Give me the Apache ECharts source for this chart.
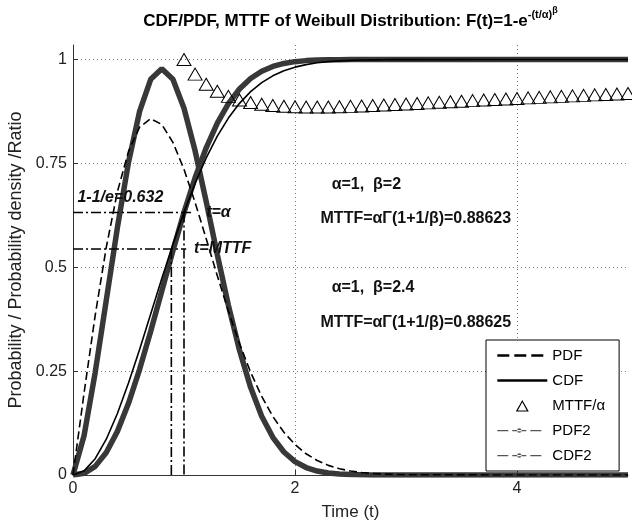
<!DOCTYPE html>
<html>
<head>
<meta charset="utf-8">
<script src="https://cdn.jsdelivr.net/npm/echarts@6/dist/echarts.min.js"></script>
<style>
  html, body { margin: 0; padding: 0; background: #fff; }
  #chart { width: 632px; height: 529px; }
</style>
</head>
<body>
<div id="chart"></div>
<script>
// time axis samples
const tVals = [0, 0.1, 0.2, 0.3, 0.4, 0.5, 0.6, 0.7, 0.8, 0.9, 1.0, 1.1, 1.2, 1.3, 1.4, 1.5,
  1.6, 1.7, 1.8, 1.9, 2.0, 2.1, 2.2, 2.3, 2.4, 2.5, 2.6, 2.7, 2.8, 2.9, 3.0, 4.0, 5.0]
// alpha=1, beta=2
const pdfVals = [0, 0.1980, 0.3843, 0.5484, 0.6817, 0.7788, 0.8372, 0.8577, 0.8437, 0.8007, 0.7358,
  0.6560, 0.5686, 0.4797, 0.3944, 0.3162, 0.2474, 0.1890, 0.1410, 0.1028, 0.0733, 0.0511, 0.0348,
  0.0232, 0.0151, 0.0097, 0.0060, 0.0037, 0.0022, 0.0013, 0.0007, 0, 0]
const cdfVals = [0, 0.0100, 0.0392, 0.0861, 0.1479, 0.2212, 0.3023, 0.3874, 0.4727, 0.5551, 0.6321,
  0.7018, 0.7631, 0.8155, 0.8591, 0.8946, 0.9227, 0.9444, 0.9608, 0.9730, 0.9817, 0.9878, 0.9921,
  0.9950, 0.9968, 0.9981, 0.9988, 0.9993, 0.9996, 0.9998, 0.9999, 1, 1]
// alpha=1, beta=2.4
const pdf2Vals = [0, 0.0952, 0.2469, 0.4208, 0.5956, 0.7525, 0.8753, 0.9525, 0.9780, 0.9526, 0.8829,
  0.7803, 0.6582, 0.5304, 0.4083, 0.3003, 0.2110, 0.1416, 0.0907, 0.0554, 0.0323, 0.0180, 0.0095,
  0.0048, 0.0023, 0.0011, 0.0005, 0.0002, 0.0001, 0, 0, 0, 0]
const cdf2Vals = [0, 0.0040, 0.0208, 0.0541, 0.1050, 0.1726, 0.2543, 0.3461, 0.4431, 0.5400, 0.6321,
  0.7155, 0.7875, 0.8470, 0.8938, 0.9291, 0.9545, 0.9719, 0.9834, 0.9906, 0.9949, 0.9974, 0.9987,
  0.9994, 0.9997, 0.9999, 1, 1, 1, 1, 1, 1, 1]
// MTTF/alpha against beta
const betaVals = [1.0, 1.1, 1.2, 1.3, 1.4, 1.5, 1.6, 1.7, 1.8, 1.9, 2.0, 2.1, 2.2, 2.3, 2.4, 2.5, 2.6,
  2.7, 2.8, 2.9, 3.0, 3.1, 3.2, 3.3, 3.4, 3.5, 3.6, 3.7, 3.8, 3.9, 4.0, 4.1, 4.2, 4.3, 4.4, 4.5,
  4.6, 4.7, 4.8, 4.9, 5.0]
const mttfRatio = [1.0000, 0.9649, 0.9407, 0.9237, 0.9114, 0.9027, 0.8966, 0.8922, 0.8893, 0.8874,
  0.8862, 0.8857, 0.8856, 0.8859, 0.8865, 0.8873, 0.8882, 0.8893, 0.8905, 0.8917, 0.8930, 0.8943,
  0.8957, 0.8970, 0.8984, 0.8997, 0.9011, 0.9025, 0.9038, 0.9051, 0.9064, 0.9077, 0.9089, 0.9102,
  0.9114, 0.9126, 0.9138, 0.9149, 0.9160, 0.9171, 0.9182]
// reference lines: t=alpha and t=MTTF
const refT = [1.0, 0.886]
const refF = [0.632, 0.544]
const refEnd = [1.08, 1.02]

const FONT = '"Liberation Sans", Arial, sans-serif'
const pairs = (xs, ys) => xs.map((x, i) => [x, ys[i]])

const refData = []
refT.forEach((t, i) => {
  refData.push([0, refF[i]], [refEnd[i], refF[i]], [refEnd[i], '-'], [t, refF[i]], [t, 0], [t, '-'])
})

const annotations = [
  { text: '1-1/e=0.632', at: [0.04, 0.668], italic: true },
  { text: 't=α', at: [1.2, 0.632], italic: true },
  { text: 't=MTTF', at: [1.09, 0.544], italic: true },
  { text: 'α=1,  β=2', at: [2.33, 0.70] },
  { text: 'MTTF=αΓ(1+1/β)=0.88623', at: [2.23, 0.618] },
  { text: 'α=1,  β=2.4', at: [2.33, 0.45] },
  { text: 'MTTF=αΓ(1+1/β)=0.88625', at: [2.23, 0.368] }
]

// legend icons drawn in a 50x14 box (degenerate corner points keep the box size)
const BOX = 'M0,0L0,0ZM50,14L50,14Z'
const dashDotIcon = 'path://' + BOX + 'M0,6.4h11v1.3h-11zM15,6.4h14v1.3h-14zM33,6.4h11v1.3h-11z' +
  'M22,4.8a2.2,2.2 0 1,0 0.01,0z'
const triangleIcon = 'path://' + BOX + 'M25,1.5L31.5,13L18.5,13ZM25,3.7L20.5,12L29.5,12Z'

const chart = echarts.init(document.getElementById('chart'))

const axisCommon = {
  type: 'value',
  axisLine: { lineStyle: { color: '#333', width: 1 } },
  axisTick: { inside: true, length: 5, lineStyle: { color: '#333' } },
  splitLine: { show: true, showMinLine: false, showMaxLine: false, lineStyle: { color: '#777', type: [1, 3] } },
  nameLocation: 'middle'
}
const labelStyle = { fontFamily: FONT, fontSize: 16, color: '#222' }

chart.setOption({
  animation: false,
  grid: { left: 73, right: 4, top: 45, bottom: 54, outerBoundsMode: 'none' },
  xAxis: {
    ...axisCommon,
    min: 0,
    max: 5,
    interval: 2,
    name: 'Time (t)',
    nameGap: 29,
    nameTextStyle: { fontFamily: FONT, fontSize: 17, color: '#222' },
    axisLabel: { showMaxLabel: false, margin: 6, ...labelStyle }
  },
  yAxis: {
    ...axisCommon,
    min: 0,
    max: 1.035,
    interval: 0.25,
    name: 'Probability / Probability density /Ratio',
    nameGap: 42,
    nameTextStyle: { fontFamily: FONT, fontSize: 18, color: '#222' },
    axisLabel: { showMaxLabel: false, margin: 6, ...labelStyle }
  },
  legend: {
    orient: 'vertical',
    left: 486,
    top: 340,
    padding: [8, 14, 8, 10],
    itemWidth: 50,
    itemHeight: 14,
    itemGap: 10,
    backgroundColor: '#fff',
    borderColor: '#000',
    borderWidth: 1,
    borderRadius: 0,
    textStyle: { fontFamily: FONT, fontSize: 15, color: '#000' },
    data: [
      { name: 'PDF', lineStyle: { width: 2.6, type: [12, 5] }, itemStyle: { opacity: 0 } },
      { name: 'CDF', lineStyle: { width: 2.6 }, itemStyle: { opacity: 0 } },
      { name: 'MTTF/α', icon: triangleIcon, itemStyle: { color: '#000', borderWidth: 0 } },
      { name: 'PDF2', icon: dashDotIcon, itemStyle: { color: '#555' } },
      { name: 'CDF2', icon: dashDotIcon, itemStyle: { color: '#555' } }
    ]
  },
  series: [
    {
      name: 'PDF2', type: 'line', data: pairs(tVals, pdf2Vals),
      symbol: 'circle', symbolSize: 4, showSymbol: false,
      lineStyle: { color: '#383838', width: 5.5 }, itemStyle: { color: '#383838' }, z: 2
    },
    {
      name: 'CDF2', type: 'line', data: pairs(tVals, cdf2Vals),
      symbol: 'circle', symbolSize: 4, showSymbol: false,
      lineStyle: { color: '#383838', width: 5.5 }, itemStyle: { color: '#383838' }, z: 2
    },
    {
      name: 'PDF', type: 'line', data: pairs(tVals, pdfVals),
      symbol: 'none', lineStyle: { color: '#000', width: 1.6, type: [8, 4] }, itemStyle: { color: '#000' }, z: 3
    },
    {
      name: 'CDF', type: 'line', data: pairs(tVals, cdfVals),
      symbol: 'none', lineStyle: { color: '#000', width: 1.6 }, itemStyle: { color: '#000' }, z: 3
    },
    {
      name: 'MTTF/α', type: 'scatter', data: pairs(betaVals, mttfRatio),
      symbol: 'triangle', symbolSize: [14, 12],
      itemStyle: { color: 'rgba(255,255,255,0)', borderColor: '#000', borderWidth: 1, opacity: 1 }, z: 4
    },
    {
      type: 'line', data: refData, symbol: 'none', connectNulls: false,
      lineStyle: { color: '#000', width: 1.6, type: [10, 3, 2, 3] }, z: 5
    }
  ]
})

const grid0 = { gridIndex: 0 }
const center = chart.convertToPixel(grid0, [2.5, 1])
const graphics = [{
  type: 'text',
  x: center[0],
  y: 18,
  style: {
    text: '{m|CDF/PDF, MTTF of Weibull Distribution: F(t)=1-e}{s|-(t/α)}{ss|β}',
    align: 'center',
    verticalAlign: 'middle',
    rich: {
      m: { fontFamily: FONT, fontWeight: 'bold', fontSize: 17, verticalAlign: 'bottom' },
      s: { fontFamily: FONT, fontWeight: 'bold', fontSize: 11, verticalAlign: 'bottom', padding: [0, 0, 9, 0] },
      ss: { fontFamily: FONT, fontWeight: 'bold', fontSize: 9, verticalAlign: 'bottom', padding: [0, 0, 14, 0] }
    }
  }
}]
annotations.forEach(a => {
  const p = chart.convertToPixel(grid0, a.at)
  graphics.push({
    type: 'text',
    x: p[0],
    y: p[1],
    z: 10,
    style: {
      text: a.text,
      fontFamily: FONT,
      fontWeight: 'bold',
      fontStyle: a.italic ? 'italic' : 'normal',
      fontSize: 16,
      fill: '#111',
      align: 'left',
      verticalAlign: 'middle'
    }
  })
})
chart.setOption({ graphic: graphics })
</script>
</body>
</html>
